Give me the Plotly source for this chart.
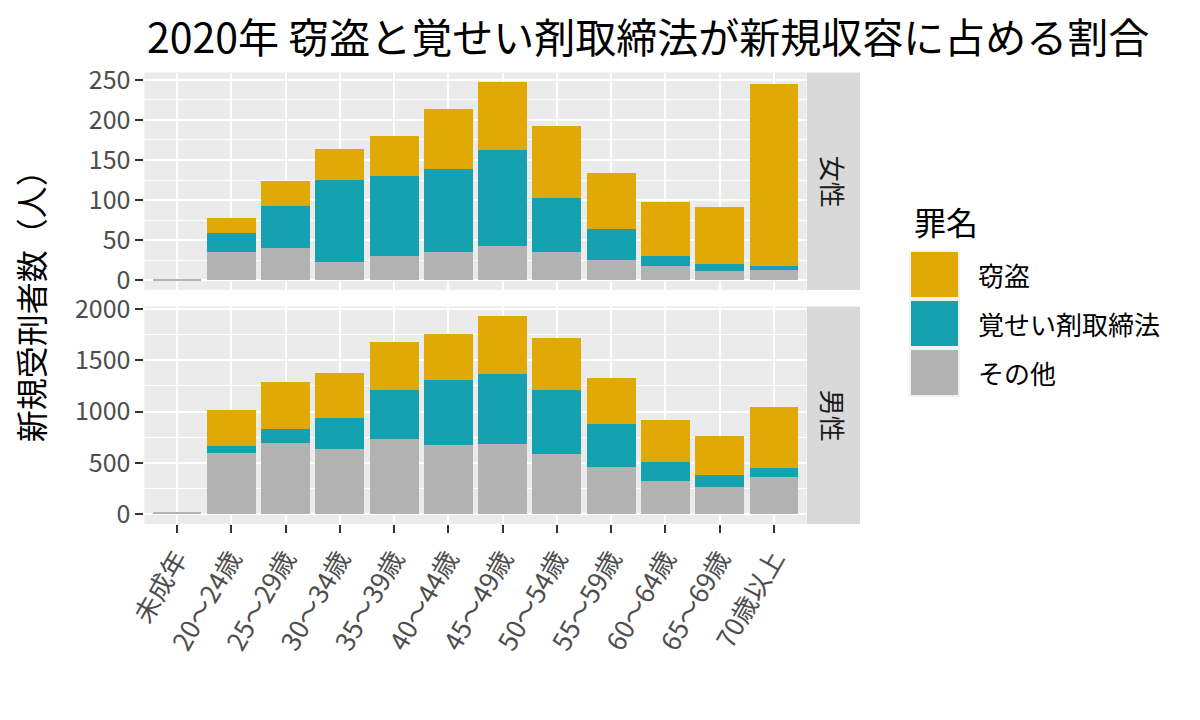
import plotly.graph_objects as go

# ---- data ----
age_groups = ["未成年", "20～24歳", "25～29歳", "30～34歳", "35～39歳", "40～44歳",
              "45～49歳", "50～54歳", "55～59歳", "60～64歳", "65～69歳", "70歳以上"]
crime_names = ["その他", "覚せい剤取締法", "窃盗"]  # stacking order, bottom to top
crime_colors = ["#B3B3B3", "#15A1AF", "#E1A905"]

female_other = [1, 35, 40, 23, 30, 35, 42, 35, 25, 17, 11, 13]
female_stim = [0, 24, 52, 102, 100, 104, 120, 67, 39, 13, 9, 4]
female_theft = [0, 18, 32, 39, 50, 75, 85, 91, 70, 67, 71, 228]

male_other = [12, 598, 690, 637, 728, 676, 683, 585, 462, 322, 267, 358]
male_stim = [0, 65, 140, 300, 478, 631, 683, 621, 413, 189, 114, 94]
male_theft = [0, 352, 462, 442, 475, 449, 563, 514, 449, 403, 377, 595]

panel_labels = ["女性", "男性"]
title_text = "2020年 窃盗と覚せい剤取締法が新規収容に占める割合"
y_title = "新規受刑者数（人）"
legend_title = "罪名"

W, H = 1200, 720
FONT = "Noto Sans CJK JP"

def px_x(x):
    return x / W

def px_y(y):
    return 1 - y / H

# panel geometry (pixels)
x_left, x_right = 144.4, 806.6
top_panel = (72.5, 289.9)
bot_panel = (306.4, 523.9)

fig = go.Figure()

female = [female_other, female_stim, female_theft]
male = [male_other, male_stim, male_theft]

for i, name in enumerate(crime_names):
    fig.add_trace(go.Bar(x=age_groups, y=female[i], name=name, marker_color=crime_colors[i],
                         marker_line_width=0, xaxis="x", yaxis="y", showlegend=False))
    fig.add_trace(go.Bar(x=age_groups, y=male[i], name=name, marker_color=crime_colors[i],
                         marker_line_width=0, xaxis="x2", yaxis="y2", showlegend=False))

def stacked_max(series):
    return max(sum(v) for v in zip(*series))

fmax = stacked_max(female)
mmax = stacked_max(male)
f_range = [-0.05 * fmax, fmax * 1.05]
m_range = [-0.05 * mmax, mmax * 1.05]

grid_major = dict(showgrid=True, gridcolor="white", gridwidth=2.4)
tickfont = dict(family=FONT, size=25, color="#4D4D4D")

xcommon = dict(type="category", categoryorder="array", categoryarray=age_groups,
               range=[-0.6, len(age_groups) - 0.4], domain=[px_x(x_left), px_x(x_right)],
               showgrid=True, gridcolor="white", gridwidth=2.4, zeroline=False,
               showline=False, automargin=False, fixedrange=True)

fig.update_layout(
    width=W, height=H,
    margin=dict(l=0, r=0, t=0, b=0),
    paper_bgcolor="white",
    plot_bgcolor="#EBEBEB",
    barmode="stack",
    bargap=0.1,
    showlegend=False,
    xaxis=dict(**xcommon, anchor="y", showticklabels=False, ticks=""),
    xaxis2=dict(**xcommon, anchor="y2", matches="x", ticks="outside", ticklen=8, tickwidth=2,
                tickcolor="#333333", tickangle=-60,
                tickfont=dict(family=FONT, size=26, color="#4D4D4D")),
    yaxis=dict(domain=[px_y(top_panel[1]), px_y(top_panel[0])], range=f_range, anchor="x",
               dtick=50, tick0=0, **grid_major, zeroline=False, showline=False,
               ticks="outside", ticklen=8, tickwidth=2, tickcolor="#333333", tickfont=tickfont,
               minor=dict(dtick=25, tick0=0, showgrid=True, gridcolor="white", gridwidth=1.2),
               automargin=False, fixedrange=True),
    yaxis2=dict(domain=[px_y(bot_panel[1]), px_y(bot_panel[0])], range=m_range, anchor="x2",
                dtick=500, tick0=0, **grid_major, zeroline=False, showline=False,
                ticks="outside", ticklen=8, tickwidth=2, tickcolor="#333333", tickfont=tickfont,
                minor=dict(dtick=250, tick0=0, showgrid=True, gridcolor="white", gridwidth=1.2),
                automargin=False, fixedrange=True),
)

shapes = []
annotations = []

# facet strips on the right
strip_x0, strip_x1 = 807.0, 860.0
for label, (py0, py1) in zip(panel_labels, [top_panel, bot_panel]):
    shapes.append(dict(type="rect", xref="paper", yref="paper",
                       x0=px_x(strip_x0), x1=px_x(strip_x1), y0=px_y(py1), y1=px_y(py0),
                       fillcolor="#D9D9D9", line_width=0, layer="below"))
    annotations.append(dict(text=label, xref="paper", yref="paper",
                            x=px_x((strip_x0 + strip_x1) / 2), y=px_y((py0 + py1) / 2),
                            showarrow=False, textangle=90,
                            font=dict(family=FONT, size=26, color="#1A1A1A"),
                            xanchor="center", yanchor="middle"))

# title
annotations.append(dict(text=title_text, xref="paper", yref="paper",
                        x=px_x(145), y=px_y(35), xanchor="left", yanchor="middle",
                        showarrow=False, font=dict(family=FONT, size=41, color="black")))

# y-axis title
annotations.append(dict(text=y_title, xref="paper", yref="paper",
                        x=px_x(30), y=px_y((top_panel[0] + bot_panel[1]) / 2),
                        xanchor="center", yanchor="middle", textangle=-90,
                        showarrow=False, font=dict(family=FONT, size=32, color="black")))

# legend (drawn as layout elements, top to bottom: reversed stacking order)
annotations.append(dict(text=legend_title, xref="paper", yref="paper",
                        x=px_x(912), y=px_y(221), xanchor="left", yanchor="middle",
                        showarrow=False, font=dict(family=FONT, size=32, color="black")))
key_x0, key_w, key_h, key_step, key_top = 911, 47, 45, 49, 252
for j, idx in enumerate(reversed(range(len(crime_names)))):
    ky0 = key_top + j * key_step
    shapes.append(dict(type="rect", xref="paper", yref="paper",
                       x0=px_x(key_x0 - 2), x1=px_x(key_x0 + key_w + 2),
                       y0=px_y(ky0 + key_h + 2), y1=px_y(ky0 - 2),
                       fillcolor="#F2F2F2", line_width=0))
    shapes.append(dict(type="rect", xref="paper", yref="paper",
                       x0=px_x(key_x0), x1=px_x(key_x0 + key_w),
                       y0=px_y(ky0 + key_h), y1=px_y(ky0),
                       fillcolor=crime_colors[idx], line_width=0))
    annotations.append(dict(text=crime_names[idx], xref="paper", yref="paper",
                            x=px_x(976), y=px_y(ky0 + key_h / 2), xanchor="left", yanchor="middle",
                            showarrow=False, font=dict(family=FONT, size=26, color="black")))

fig.update_layout(shapes=shapes, annotations=annotations)

fig.write_html("out.html")
